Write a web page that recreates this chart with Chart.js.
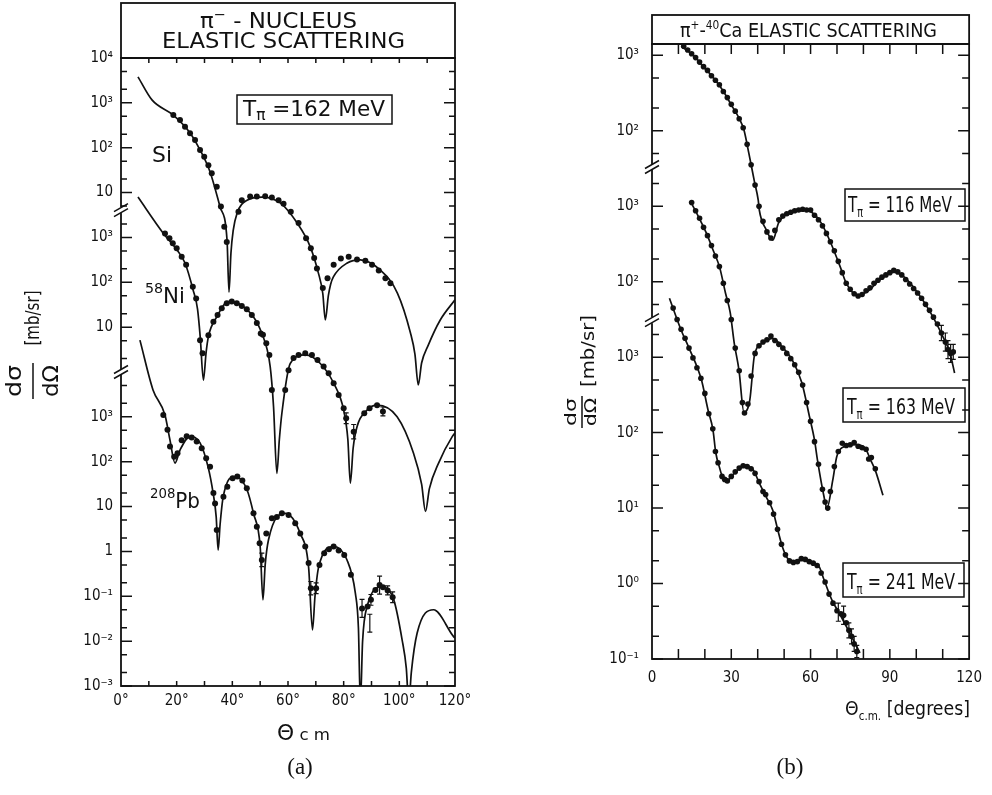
<!DOCTYPE html>
<html>
<head>
<meta charset="utf-8">
<script src="https://cdn.jsdelivr.net/npm/chart.js@4.4.0/dist/chart.umd.min.js"></script>
<style>
  body { margin: 0; background: #fff; width: 992px; height: 795px; overflow: hidden; position: relative; }
  canvas { position: absolute; top: 0; }
  #ca { left: 0; }
  #cb { left: 490px; }
  .cap { position: absolute; top: 754px; width: 60px; text-align: center; font-family: "Liberation Serif", "DejaVu Serif", serif; font-size: 23px; color: #111; }
</style>
</head>
<body>
<canvas id="ca" width="480" height="760"></canvas>
<canvas id="cb" width="502" height="760"></canvas>
<div class="cap" style="left:270px">(a)</div>
<div class="cap" style="left:760px">(b)</div>
<script>
const FONT = "'DejaVu Sans Condensed','Liberation Sans Narrow','DejaVu Sans',sans-serif";

// ---------- panel (a): pi- nucleus, 162 MeV  [theta deg, log10(dsig/dOmega)] ----------
const siCurve = [[6.1,3.58],[11.2,3.06],[18.7,2.73],[24.8,2.33],[28.4,1.95],[32.0,1.46],[35.6,0.68],[38.1,-0.06],
  [38.8,-1.22],[39.5,-0.35],[40.3,0.15],[41.7,0.54],[45.3,0.83],[50.7,0.90],[57.2,0.77],[63.3,0.32],[68.0,-0.21],
  [70.9,-0.79],[72.5,-1.25],[73.4,-1.84],[74.5,-1.3],[75.3,-1.05],[76.3,-0.88],[81.3,-0.57],[86.0,-0.50],[93.2,-0.73],
  [99.3,-1.24],[104.0,-2.13],[105.6,-2.6],[106.8,-3.29],[108.0,-2.8],[110.4,-2.40],[114.7,-1.84],[120,-1.39]];
const niCurve = [[6.1,3.90],[15.1,3.10],[20.1,2.72],[23.0,2.43],[25.9,1.83],[27.5,1.40],[28.5,0.75],[29.6,-0.18],
  [30.6,0.45],[31.4,0.79],[34.4,1.23],[38.6,1.57],[44.0,1.46],[50.6,0.86],[53.6,0.12],[54.8,-0.77],[56.0,-2.26],
  [56.9,-1.5],[57.8,-0.92],[60.8,0.19],[66.2,0.38],[71.6,0.19],[76.4,-0.25],[80.0,-0.85],[81.5,-1.5],[82.4,-2.48],
  [83.4,-1.7],[84.8,-1.22],[88.4,-0.85],[92.0,-0.74],[99.2,-1.00],[105.1,-1.81],[108.0,-2.5],[109.4,-3.11],
  [110.8,-2.6],[114.1,-2.03],[119.0,-1.44],[120,-1.36]];
const pbCurve = [[6.8,4.71],[11.5,3.60],[15.8,3.04],[17.6,2.48],[19.4,1.97],[21.2,2.26],[24.8,2.56],[28.4,2.42],
  [31.3,1.88],[33.1,1.30],[34.2,0.77],[34.9,0.03],[35.6,0.6],[36.7,1.21],[41.0,1.67],[45.3,1.37],[47.6,0.85],
  [50.0,0.11],[51.0,-1.08],[51.8,-0.3],[53.0,0.26],[59.0,0.85],[64.4,0.40],[67.4,-0.35],[68.8,-1.75],[69.7,-1.0],
  [71.0,-0.35],[76.4,0.11],[81.2,-0.19],[84.2,-0.93],[85.3,-1.7],[86.0,-3.4],[86.8,-2.0],[88.4,-1.23],[93.8,-0.79],
  [98.0,-1.08],[101.0,-1.97],[102.5,-2.6],[103.4,-3.4],[104.3,-2.7],[106.4,-1.82],[112.3,-1.30],[119.5,-1.90],[120,-1.93]];

const siPts = [[18.8,2.73],[21.2,2.62],[23.0,2.47],[24.8,2.32],[26.6,2.17],[28.4,1.95],[29.9,1.80],[31.4,1.61],
  [32.6,1.43],[34.4,1.13],[35.9,0.69],[37.1,0.24],[38.0,-0.10],[42.2,0.57],[43.4,0.83],[46.4,0.91],[48.8,0.91],
  [51.8,0.92],[54.2,0.89],[56.6,0.83],[58.4,0.75],[61.0,0.57],[63.8,0.32],[66.5,-0.02],[68.2,-0.24],[69.4,-0.46],
  [70.4,-0.69],[72.5,-1.13],[74.2,-0.91],[76.4,-0.61],[79.0,-0.47],[81.8,-0.43],[84.8,-0.49],[87.8,-0.52],
  [90.2,-0.61],[92.6,-0.74],[95.0,-0.91],[96.8,-1.02]];
const niPts = [[15.8,3.09],[17.4,2.98],[18.6,2.87],[20.0,2.76],[21.8,2.57],[23.4,2.39],[25.8,1.90],[27.0,1.64],
  [28.4,0.71],[29.3,0.42],[31.4,0.82],[33.2,1.12],[34.7,1.27],[36.2,1.42],[38.0,1.53],[39.8,1.57],[41.6,1.53],
  [43.4,1.47],[45.2,1.40],[47.0,1.27],[48.8,1.09],[50.2,0.86],[51.0,0.83],[52.2,0.64],[53.3,0.38],[54.2,-0.40],
  [59.0,-0.40],[60.2,0.04],[62.0,0.31],[63.8,0.38],[66.2,0.42],[68.6,0.38],[70.6,0.27],[72.8,0.12],[74.6,-0.03],
  [76.4,-0.25],[78.2,-0.51],[80.0,-0.81],[80.9,-1.03],[83.6,-1.33],[87.4,-0.92],[89.3,-0.81],[92.0,-0.74],[94.1,-0.88]];
const pbPts = [[15.2,3.04],[16.7,2.71],[17.6,2.34],[19.1,2.11],[20.3,2.19],[21.8,2.48],[23.6,2.57],[25.4,2.54],
  [27.2,2.45],[29.0,2.30],[30.6,2.08],[32.0,1.89],[33.2,1.30],[33.8,1.07],[34.4,0.48],[36.8,1.22],[38.2,1.44],
  [40.1,1.63],[41.8,1.67],[43.6,1.58],[45.2,1.41],[47.6,0.85],[48.8,0.55],[49.8,0.18],[50.6,-0.19],[52.2,0.40],
  [54.2,0.74],[56.0,0.77],[57.8,0.85],[60.2,0.81],[62.6,0.63],[64.4,0.40],[66.2,0.11],[67.4,-0.26],[68.2,-0.82],
  [70.1,-0.82],[71.3,-0.30],[73.0,-0.04],[74.7,0.05],[76.4,0.11],[78.2,0.02],[80.2,-0.08],[82.6,-0.52],[86.6,-1.27],
  [88.6,-1.23],[89.8,-1.08],[91.4,-0.86],[92.9,-0.75],[94.1,-0.80],[95.8,-0.87],[97.6,-1.02]];
// error bars [theta, log10 value, half-length in decades]
const niErr = [[80.9,-1.03,0.12],[83.6,-1.33,0.16],[94.1,-0.88,0.1]];
const pbErr = [[50.6,-0.19,0.15],[68.2,-0.82,0.15],[70.1,-0.82,0.12],[86.6,-1.27,0.2],[89.4,-1.6,0.2],
  [89.8,-1.08,0.12],[92.9,-0.75,0.2],[95.8,-0.87,0.1],[97.6,-1.02,0.12]];

// ---------- panel (b): pi+ 40Ca ----------
const c116Curve = [[11.3,3.11],[15.7,3.00],[19.4,2.85],[23.1,2.71],[26.7,2.54],[30.4,2.32],[32.9,2.17],[34.8,2.01],
  [36.6,1.71],[38.8,1.32],[40.2,1.08],[40.6,0.95],[43.2,0.69],[45.7,0.55],[47.9,0.78],[51.6,0.91],[56.7,0.95],
  [60.4,0.92],[64.0,0.78],[67.7,0.51],[71.3,0.19],[73.5,-0.02],[77.9,-0.18],[82.3,-0.11],[86.0,0.02],[91.8,0.13],
  [95.5,0.06],[100.6,-0.15],[105.4,-0.41],[110.1,-0.73],[112.7,-0.94],[114.5,-1.21]];
const c163Curve = [[14.6,3.06],[17.6,2.86],[20.5,2.65],[23.1,2.42],[25.6,2.19],[27.8,1.85],[29.6,1.59],[31.1,1.19],
  [32.9,0.83],[34.8,0.27],[37.0,0.43],[38.8,1.03],[42.1,1.19],[45.7,1.25],[49.4,1.13],[53.1,0.96],[56.7,0.66],
  [59.6,0.21],[61.5,-0.10],[62.6,-0.36],[65.1,-0.85],[66.2,-1.0],[68.4,-0.63],[69.9,-0.32],[72.4,-0.19],[76.8,-0.16],
  [80.5,-0.20],[82.7,-0.36],[84.5,-0.50],[87.4,-0.83]];
const c241Curve = [[6.6,3.78],[11.0,3.36],[13.9,3.13],[18.7,2.70],[21.2,2.30],[23.1,2.03],[24.1,1.74],[25.6,1.53],
  [26.7,1.41],[28.5,1.37],[31.1,1.46],[34.8,1.57],[38.4,1.50],[40.6,1.33],[43.2,1.15],[45.7,0.97],[47.6,0.71],
  [49.4,0.48],[51.2,0.34],[54.2,0.29],[57.1,0.34],[60.4,0.29],[63.3,0.22],[65.1,0.05],[68.1,-0.22],[71.3,-0.42],
  [74.3,-0.62],[78.7,-0.92]];

const c116Pts = [[12,3.12],[13.5,3.07],[15,3.02],[16.5,2.97],[18,2.91],[19.5,2.85],[21,2.8],[22.5,2.73],[24,2.67],
  [25.5,2.61],[27,2.52],[28.5,2.44],[30,2.35],[31.5,2.26],[33,2.16],[34.5,2.04],[36,1.82],[37.5,1.55],[39,1.28],
  [40.5,1.0],[42,0.8],[43.5,0.66],[45,0.58],[46.5,0.68],[48,0.82],[49.5,0.87],[51,0.9],[52.5,0.92],[54,0.94],
  [55.5,0.95],[57,0.96],[58.5,0.95],[60,0.95],[61.5,0.88],[63,0.82],[64.5,0.74],[66,0.64],[67.5,0.53],[69,0.41],
  [70.5,0.27],[72,0.12],[73.5,-0.02],[75,-0.1],[76.5,-0.16],[78,-0.19],[79.5,-0.17],[81,-0.12],[82.5,-0.08],
  [84,-0.02],[85.5,0.02],[87,0.06],[88.5,0.09],[90,0.12],[91.5,0.15],[93,0.13],[94.5,0.09],[96,0.03],[97.5,-0.03],
  [99,-0.09],[100.5,-0.15],[102,-0.22],[103.5,-0.3],[105,-0.38],[106.5,-0.47],[108,-0.56],[109.5,-0.68],[111,-0.8],
  [112,-0.9],[113,-0.95],[114,-0.93]];
const c163Pts = [[15,3.05],[16.5,2.94],[18,2.84],[19.5,2.72],[21,2.61],[22.5,2.48],[24,2.34],[25.5,2.2],[27,1.98],
  [28.5,1.75],[30,1.5],[31.5,1.12],[33,0.82],[34.2,0.4],[35,0.26],[36.3,0.38],[37.5,0.75],[39,1.05],[40.5,1.15],
  [42,1.2],[43.5,1.23],[45,1.28],[46.5,1.22],[48,1.17],[49.5,1.12],[51,1.05],[52.5,0.98],[54,0.9],[55.5,0.8],
  [57,0.63],[58.5,0.4],[60,0.15],[61.5,-0.12],[63,-0.42],[64.5,-0.75],[65.5,-0.92],[66.5,-1.0],[67.5,-0.78],
  [69,-0.45],[70.5,-0.25],[72,-0.14],[73.5,-0.17],[75,-0.16],[76.5,-0.13],[78,-0.18],[79.5,-0.2],[81,-0.22],
  [82,-0.35],[83,-0.33],[84.5,-0.48]];
const c241Pts = [[8,3.65],[9.5,3.5],[11,3.37],[12.5,3.25],[14,3.12],[15.5,2.99],[17,2.86],[18.5,2.72],[20,2.52],
  [21.5,2.25],[23,2.05],[24,1.75],[25,1.6],[26.5,1.42],[27.5,1.38],[28.5,1.36],[30,1.42],[31.5,1.48],[33,1.53],
  [34.5,1.56],[36,1.55],[37.5,1.52],[39,1.46],[40.5,1.35],[42,1.22],[43,1.18],[44.5,1.07],[46,0.92],[47.5,0.72],
  [49,0.52],[50.5,0.38],[52,0.3],[53.5,0.28],[55,0.29],[56.5,0.33],[58,0.32],[59.5,0.29],[61,0.27],[62.5,0.24],
  [64,0.14],[65.5,0.02],[67,-0.14],[68.5,-0.26],[70,-0.36],[71.5,-0.4],[72.5,-0.42],[73.5,-0.52],[74.5,-0.62],
  [75.5,-0.7],[76.5,-0.8],[77.5,-0.9]];
const c116Err = [[109.5,-0.68,0.1],[111,-0.8,0.12],[112,-0.9,0.12],[113,-0.95,0.12],[114,-0.93,0.1]];
const c241Err = [[70.5,-0.38,0.12],[72.5,-0.42,0.12],[74.5,-0.62,0.1],[75.5,-0.7,0.1],[76.5,-0.8,0.1],[77.5,-0.9,0.08]];

// decade offsets of the stacked curves on the shared axis
const offA = { si: 7, ni: 4, pb: 0 };
const offB = { e116: 4, e163: 2, e241: 0 };

// axis ticks
const xTicksA = [0, 20, 40, 60, 80, 100, 120];
const xTicksB = [0, 30, 60, 90, 120];
const yMajA = [11, 10, 9, 8, 7, 6, 5, 3, 2, 1, 0, -1, -2, -3];
const yLabA = ['10⁴','10³','10²','10','10³','10²','10','10³','10²','10','1','10⁻¹','10⁻²','10⁻³'];
const yMajB = [7, 6, 5, 4, 3, 2, 1, 0, -1];
const yLabB = ['10³','10²','10³','10²','10³','10²','10¹','10⁰','10⁻¹'];
// [offset, lowest log, highest log] of each axis segment, and the break positions
const segsA = [[7, 0.65, 4], [4, 0.05, 3.44], [0, -3, 3.95]];
const segsB = [[4, 1.55, 3.15], [2, 1.5, 3.55], [0, -1, 3.5]];
const breaksA = [7.61, 4.0];
const breaksB = [5.52, 3.49];

// ---------- helpers ----------
function fitText(ctx, txt, x, y, w, size, align = 'center', base = 'middle') {
  ctx.save();
  ctx.font = size + 'px ' + FONT;
  ctx.textAlign = align; ctx.textBaseline = base;
  const s = w / ctx.measureText(txt).width;
  ctx.translate(x, y); ctx.scale(s, 1);
  ctx.fillText(txt, 0, 0);
  ctx.restore();
}

// runs: [text, size, dy]
function drawRuns(ctx, runs, x, y, w) {
  ctx.save();
  ctx.textAlign = 'left'; ctx.textBaseline = 'alphabetic';
  let total = 0;
  const widths = runs.map(r => { ctx.font = r[1] + 'px ' + FONT; const m = ctx.measureText(r[0]).width; total += m; return m; });
  ctx.translate(x, y); ctx.scale(w / total, 1);
  let cx = 0;
  runs.forEach((r, i) => { ctx.font = r[1] + 'px ' + FONT; ctx.fillText(r[0], cx, r[2] || 0); cx += widths[i]; });
  ctx.restore();
}

function yTitle(ctx, cx, cy, numOff, denOff, size, fw, bx, by, bw, bsize) {
  ctx.save();
  ctx.translate(cx, cy); ctx.rotate(-Math.PI / 2);
  fitText(ctx, 'dσ', 0, numOff, fw, size);
  fitText(ctx, 'dΩ', 0, denOff, fw, size);
  ctx.lineWidth = 1.5;
  ctx.beginPath(); ctx.moveTo(-fw / 2 - 2, 0); ctx.lineTo(fw / 2 + 2, 0); ctx.stroke();
  ctx.restore();
  ctx.save();
  ctx.translate(bx, by); ctx.rotate(-Math.PI / 2);
  fitText(ctx, '[mb/sr]', 0, 0, bw, bsize);
  ctx.restore();
}

function tickMarks(segs, majorLen, minorLen) {
  const out = [];
  segs.forEach(([off, lo, hi]) => {
    for (let n = Math.floor(lo); n <= Math.ceil(hi); n++) {
      [[0, majorLen], [Math.log10(2), minorLen], [Math.log10(5), minorLen]].forEach(([f, len]) => {
        const L = n + f;
        if (L >= lo - 1e-9 && L <= hi + 1e-9) out.push([L + off, len]);
      });
    }
  });
  return out;
}

const toXY = (pairs, off) => pairs.map(p => ({ x: p[0], y: p[1] + off }));
const curve = (pairs, off) => ({ data: toXY(pairs, off), showLine: true, pointRadius: 0, borderColor: '#111',
  borderWidth: 1.7, cubicInterpolationMode: 'monotone', fill: false });
const dots = (pairs, off, r) => ({ data: toXY(pairs, off), showLine: false, pointRadius: r,
  pointBackgroundColor: '#111', pointBorderColor: '#111', pointBorderWidth: 0 });

function decor(spec) {
  return {
    id: 'decor',
    afterDatasetsDraw(chart) {
      const { ctx, chartArea: a, scales: { x, y } } = chart;
      ctx.save();
      ctx.strokeStyle = '#111'; ctx.fillStyle = '#111';
      // error bars
      ctx.lineWidth = 1.2;
      ctx.beginPath();
      spec.errs.forEach(([list, off]) => list.forEach(([t, L, e]) => {
        const px = x.getPixelForValue(t);
        const y1 = y.getPixelForValue(L + off - e), y2 = y.getPixelForValue(L + off + e);
        ctx.moveTo(px, y1); ctx.lineTo(px, y2);
        ctx.moveTo(px - 2.5, y1); ctx.lineTo(px + 2.5, y1);
        ctx.moveTo(px - 2.5, y2); ctx.lineTo(px + 2.5, y2);
      }));
      ctx.stroke();
      // frame
      ctx.lineWidth = 1.8;
      ctx.strokeRect(a.left, a.top, a.right - a.left, a.bottom - a.top);
      // inward ticks
      ctx.lineWidth = 1.5;
      ctx.beginPath();
      spec.yTicks.forEach(([u, len]) => {
        const py = y.getPixelForValue(u);
        ctx.moveTo(a.left, py); ctx.lineTo(a.left + len, py);
        ctx.moveTo(a.right, py); ctx.lineTo(a.right - len, py);
      });
      for (let t = 10; t < 120; t += 10) {
        const px = x.getPixelForValue(t);
        ctx.moveTo(px, a.bottom); ctx.lineTo(px, a.bottom - spec.xLen);
        ctx.moveTo(px, a.top); ctx.lineTo(px, a.top + spec.xLen);
      }
      ctx.stroke();
      // axis breaks
      spec.breaks.forEach(u => {
        const py = y.getPixelForValue(u);
        ctx.fillStyle = '#fff';
        ctx.fillRect(a.left - 3, py - 3, 6, 6);
        ctx.beginPath();
        [-2.5, 2.5].forEach(d => { ctx.moveTo(a.left - 7, py + d + 4); ctx.lineTo(a.left + 7, py + d - 4); });
        ctx.stroke();
      });
      ctx.fillStyle = '#111';
      spec.draw(ctx, a);
      ctx.restore();
    }
  };
}

function makeChart(id, datasets, xTicks, xFmt, yMin, yMax, yMaj, yLab, yWidth, pad, xHeight, tickPad, plugin) {
  return new Chart(document.getElementById(id), {
    type: 'scatter',
    data: { datasets },
    options: {
      responsive: false, animation: false, devicePixelRatio: 1,
      layout: { padding: pad },
      plugins: { legend: { display: false }, tooltip: { enabled: false } },
      scales: {
        x: {
          type: 'linear', min: 0, max: 120,
          grid: { display: false, drawTicks: false }, border: { display: false },
          afterBuildTicks: s => { s.ticks = xTicks.map(v => ({ value: v })); },
          afterFit: s => { s.height = xHeight; },
          ticks: { autoSkip: false, maxRotation: 0, padding: tickPad[0], color: '#111',
            font: { family: FONT, size: 15 }, callback: v => xFmt(v) }
        },
        y: {
          type: 'linear', min: yMin, max: yMax,
          grid: { display: false, drawTicks: false }, border: { display: false },
          afterBuildTicks: s => { s.ticks = yMaj.map(v => ({ value: v })); },
          afterFit: s => { s.width = yWidth; },
          ticks: { autoSkip: false, padding: tickPad[1], color: '#111',
            font: { family: FONT, size: 15 }, callback: (v, i) => yLab[i] }
        }
      }
    },
    plugins: [plugin]
  });
}

// ---------- panel (a) ----------
makeChart('ca', [
    curve(siCurve, offA.si), curve(niCurve, offA.ni), curve(pbCurve, offA.pb),
    dots(siPts, offA.si, 3), dots(niPts, offA.ni, 3), dots(pbPts, offA.pb, 3)
  ], xTicksA, v => v + '°', -3, 11, yMajA, yLabA, 121,
  { left: 0, right: 25, top: 58, bottom: 44 }, 30, [6, 8],
  decor({
    yTicks: tickMarks(segsA, 11, 6), breaks: breaksA, xLen: 5,
    errs: [[niErr, offA.ni], [pbErr, offA.pb]],
    draw(ctx, a) {
      ctx.lineWidth = 1.8;
      ctx.strokeRect(a.left, 3, a.right - a.left, a.top - 3);
      drawRuns(ctx, [['π', 22], ['−', 14, -9], [' - NUCLEUS', 22]], 200, 28, 157);
      fitText(ctx, 'ELASTIC SCATTERING', 162, 48, 243, 22, 'left', 'alphabetic');
      ctx.lineWidth = 1.5;
      ctx.strokeRect(237, 95, 155, 29);
      drawRuns(ctx, [['T', 21], ['π', 15, 4], [' =162 MeV', 21]], 243, 116, 142);
      fitText(ctx, 'Si', 152, 162, 20, 21, 'left', 'alphabetic');
      drawRuns(ctx, [['58', 14, -10], ['Ni', 21]], 145, 303, 40);
      drawRuns(ctx, [['208', 14, -10], ['Pb', 21]], 150, 508, 50);
      yTitle(ctx, 33, 381, -17, 20, 21, 32, 34, 318, 55, 20);
      drawRuns(ctx, [['Θ', 21], [' c m', 16]], 277, 740, 53);
    }
  }));

// ---------- panel (b) ----------
makeChart('cb', [
    curve(c116Curve, offB.e116), curve(c163Curve, offB.e163), curve(c241Curve, offB.e241),
    dots(c116Pts, offB.e116, 2.8), dots(c163Pts, offB.e163, 2.8), dots(c241Pts, offB.e241, 2.8)
  ], xTicksB, v => String(v), -1, 7.15, yMajB, yLabB, 162,
  { left: 0, right: 12, top: 44, bottom: 77 }, 24, [10, 13],
  decor({
    yTicks: tickMarks(segsB, 11, 7), breaks: breaksB, xLen: 10,
    errs: [[c116Err, offB.e116], [c241Err, offB.e241]],
    draw(ctx, a) {
      ctx.lineWidth = 1.8;
      ctx.strokeRect(a.left, 15, a.right - a.left, a.top - 15);
      drawRuns(ctx, [['π', 20], ['+', 12, -8], ['-', 20], ['40', 12, -8], ['Ca ELASTIC SCATTERING', 20]], 190, 37, 257);
      ctx.lineWidth = 1.5;
      [[355, 189, 120, 32, 358, 212, 104, '116'], [353, 388, 122, 34, 357, 414, 108, '163'],
       [353, 563, 121, 34, 357, 589, 108, '241']].forEach(b => {
        ctx.strokeRect(b[0], b[1], b[2], b[3]);
        drawRuns(ctx, [['T', 22], ['π', 14, 5], [' = ' + b[7] + ' MeV', 22]], b[4], b[5], b[6]);
      });
      yTitle(ctx, 92, 412, -10, 10, 16, 28, 99, 351, 72, 18);
      drawRuns(ctx, [['Θ', 20], ['c.m.', 12, 5], [' [degrees]', 20]], 355, 715, 125);
    }
  }));
</script>
</body>
</html>
